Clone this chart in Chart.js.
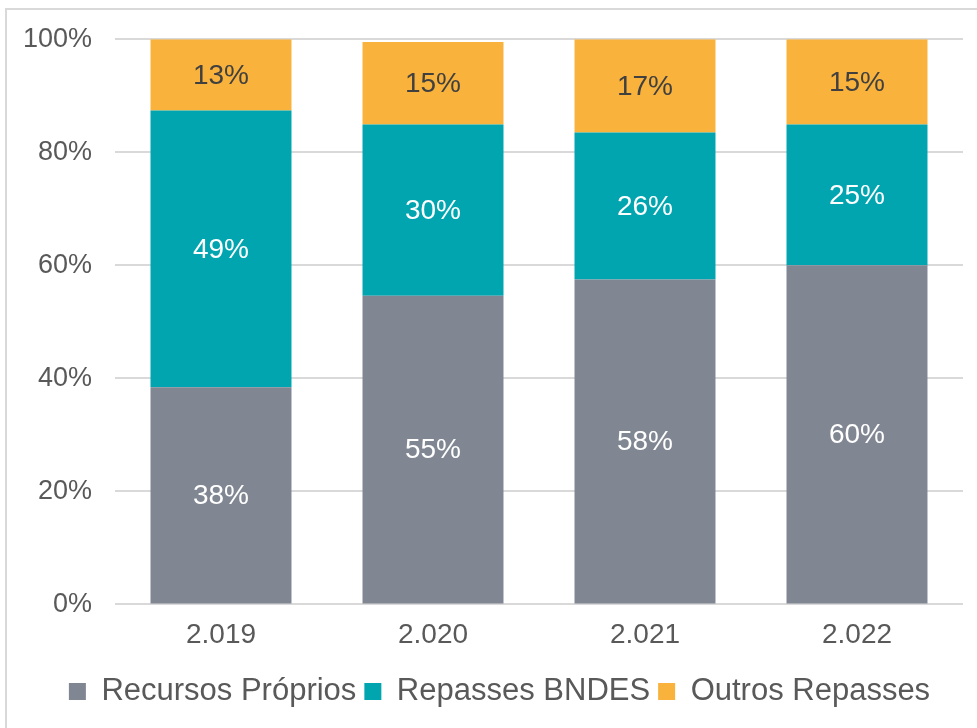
<!DOCTYPE html>
<html>
<head>
<meta charset="utf-8">
<script src="https://cdn.jsdelivr.net/npm/chart.js@4"></script>
<style>
  html, body { margin: 0; padding: 0; background: #fff; }
  #wrap { position: relative; width: 977px; height: 728px; overflow: hidden; }
  #frame { position: absolute; left: 5px; top: 8px; width: 1000px; height: 800px;
           border: 2px solid #d9d9d9; box-sizing: border-box; pointer-events: none; }
  canvas { position: absolute; left: 0; top: 0; }
</style>
</head>
<body>
<div id="wrap">
  <div id="frame"></div>
  <canvas id="chart" width="977" height="728"></canvas>
</div>
<script>
// Data
const years = ['2.019', '2.020', '2.021', '2.022'];
const recursosProprios = [38.4, 54.6, 57.5, 60.0];
const repassesBndes    = [49.0, 30.3, 26.0, 24.9];
const outrosRepasses   = [12.6, 14.6, 16.5, 15.1];
const yTicks = [0, 20, 40, 60, 80, 100];

const FONT = "'Liberation Sans', Arial, sans-serif";
const TEXT = '#595959';

// Labels in the middle of each segment
const segLabels = {
  id: 'segLabels',
  afterLayout(chart) {
    // nudge the legend so it sits where the original one does
    const lg = chart.legend;
    lg.left += 12;
    lg.right += 12;
    lg.top += 10;
    lg.bottom += 10;
  },
  afterDatasetsDraw(chart) {
    const ctx = chart.ctx;
    ctx.save();
    ctx.font = '28px ' + FONT;
    ctx.textAlign = 'center';
    ctx.textBaseline = 'middle';
    chart.data.datasets.forEach((ds, i) => {
      chart.getDatasetMeta(i).data.forEach((bar, j) => {
        ctx.fillStyle = ds.labelColor;
        ctx.fillText(Math.round(ds.data[j]) + '%', bar.x, (bar.y + bar.base) / 2 + 1);
      });
    });
    ctx.restore();
  }
};

new Chart(document.getElementById('chart').getContext('2d'), {
  type: 'bar',
  data: {
    labels: years,
    datasets: [
      { label: 'Recursos Próprios', data: recursosProprios, backgroundColor: '#808793', labelColor: '#ffffff' },
      { label: 'Repasses BNDES', data: repassesBndes, backgroundColor: '#00a5b0', labelColor: '#ffffff' },
      { label: 'Outros Repasses', data: outrosRepasses, backgroundColor: '#f9b23b', labelColor: '#404040' }
    ]
  },
  options: {
    responsive: false,
    animation: false,
    layout: { padding: { left: 12, right: 14, top: 27, bottom: 21 } },
    datasets: { bar: { categoryPercentage: 1, barPercentage: 0.665 } },
    plugins: {
      legend: {
        position: 'bottom',
        labels: {
          color: TEXT,
          font: { family: FONT, size: 31 },
          boxWidth: 17,
          boxHeight: 17,
          padding: 8
        }
      },
      tooltip: { enabled: false }
    },
    scales: {
      x: {
        stacked: true,
        grid: { display: false },
        border: { display: false },
        ticks: { color: TEXT, font: { family: FONT, size: 28 }, padding: 6 }
      },
      y: {
        stacked: true,
        min: 0, max: 100,
        afterFit: axis => { axis.width = 103; },
        afterBuildTicks: axis => { axis.ticks = yTicks.map(v => ({ value: v })); },
        grid: { color: '#d9d9d9', lineWidth: 2, drawTicks: false },
        border: { display: false },
        ticks: { color: TEXT, font: { family: FONT, size: 27 }, padding: 23, callback: v => v + '%' }
      }
    }
  },
  plugins: [segLabels]
});
</script>
</body>
</html>
